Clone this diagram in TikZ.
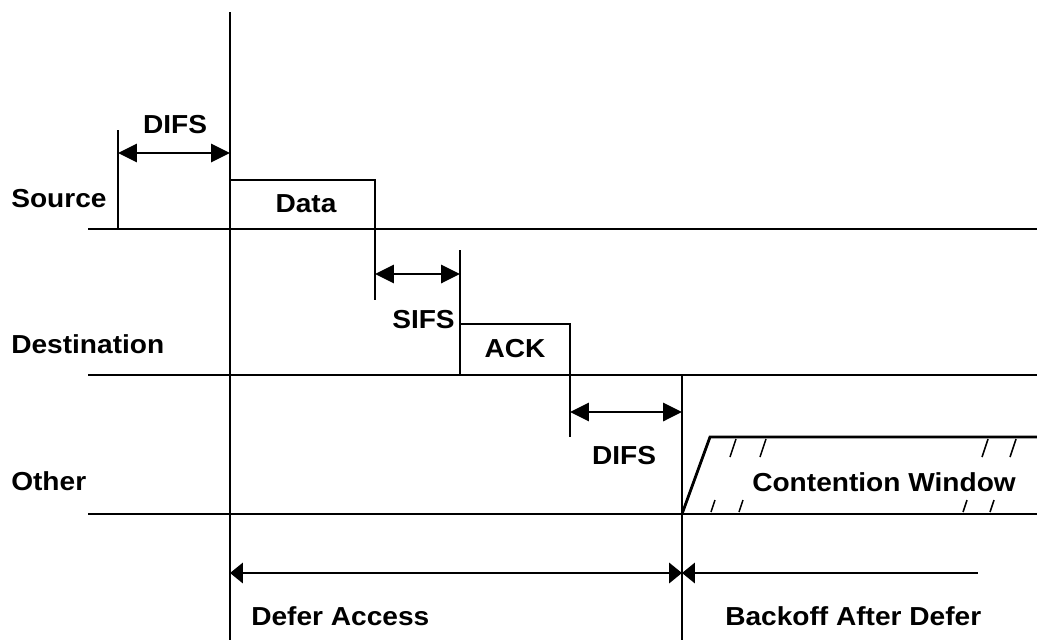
\documentclass[tikz,border=0pt]{standalone}
\usepackage{fontspec}
\setmainfont{Liberation Sans}[FakeStretch=1.08]
\usetikzlibrary{arrows.meta}
\tikzstyle{line} = [line width=2pt]
\tikzstyle{dim} = [line width=2pt, {Triangle[length=0.47cm,width=0.45cm]}-{Triangle[length=0.47cm,width=0.45cm]}]
\tikzstyle{span} = [line width=2pt, {Triangle[length=0.32cm,width=0.5cm]}-{Triangle[length=0.32cm,width=0.5cm]}]
\tikzstyle{spanleft} = [line width=2pt, {Triangle[length=0.32cm,width=0.5cm]}-]
\tikzstyle{hatch} = [line width=1.1pt]
\tikzstyle{txt} = [font=\fontsize{18.5}{22}\selectfont\bfseries, inner sep=0pt]

\begin{document}
\begin{tikzpicture}[x=0.025cm, y=-0.025cm]
\useasboundingbox (0,0) rectangle (1037,640);

% time lines
\coordinate (srcL) at (88,229);   \coordinate (srcR) at (1037,229);
\coordinate (dstL) at (88,375);   \coordinate (dstR) at (1037,375);
\coordinate (othL) at (88,514);   \coordinate (othR) at (1037,514);
\draw [line] (srcL) -- (srcR);
\draw [line] (dstL) -- (dstR);
\draw [line] (othL) -- (othR);

\node (source) [txt, anchor=west] at (11,199) {Source};
\node (dest) [txt, anchor=west] at (11,344) {Destination};
\node (other) [txt, anchor=west] at (11,481) {Other};

% main marks
\coordinate (mainT) at (230,12);   \coordinate (mainB) at (230,640);
\coordinate (cwT) at (682,375);    \coordinate (cwB) at (682,640);
\draw [line] (mainT) -- (mainB);
\draw [line] (cwT) -- (cwB);

% DIFS before data
\coordinate (difsT) at (118,130);  \coordinate (difsB) at (118,229);
\draw [line] (difsT) -- (difsB);
\draw [dim] (118,153) -- (230,153);
\node (difs1) [txt] at (175,125) {DIFS};

% data frame
\coordinate (dataTL) at (230,180); \coordinate (dataTR) at (375,180);
\coordinate (dataE) at (375,300);
\draw [line] (dataTL) -- (dataTR) -- (dataE);
\node (data) [txt] at (306,204) {Data};

% SIFS and ACK
\coordinate (sifsT) at (460,250);  \coordinate (sifsB) at (460,375);
\draw [line] (sifsT) -- (sifsB);
\draw [dim] (375,274) -- (460,274);
\node (sifs) [txt, anchor=east] at (455,320) {SIFS};
\coordinate (ackTL) at (460,324);  \coordinate (ackTR) at (570,324);
\coordinate (ackE) at (570,437);
\draw [line] (ackTL) -- (ackTR) -- (ackE);
\node (ack) [txt] at (515,349) {ACK};

% DIFS after ACK
\draw [dim] (570,412) -- (682,412);
\node (difs2) [txt] at (624,456) {DIFS};

% contention window
\coordinate (cwS) at (682,514);    \coordinate (cwK) at (710,437);
\coordinate (cwE) at (1037,437);
\draw [line] (cwS) -- (cwK) -- (cwE);
\foreach \x in {730,760,982,1010}
    \draw [hatch] (\x,457) -- ++(6,-18);
\foreach \x in {711,739,963,990}
    \draw [hatch] (\x,512) -- ++(4,-12);
\node (cw) [txt] at (884,482) {Contention Window};

% defer and backoff
\draw [span] (230,573) -- (682,573);
\draw [spanleft] (682,573) -- (978,573);
\node (defer) [txt, anchor=west] at (251,616) {Defer Access};
\node (backoff) [txt, anchor=west] at (725,616) {Backoff After Defer};

\end{tikzpicture}
\end{document}
